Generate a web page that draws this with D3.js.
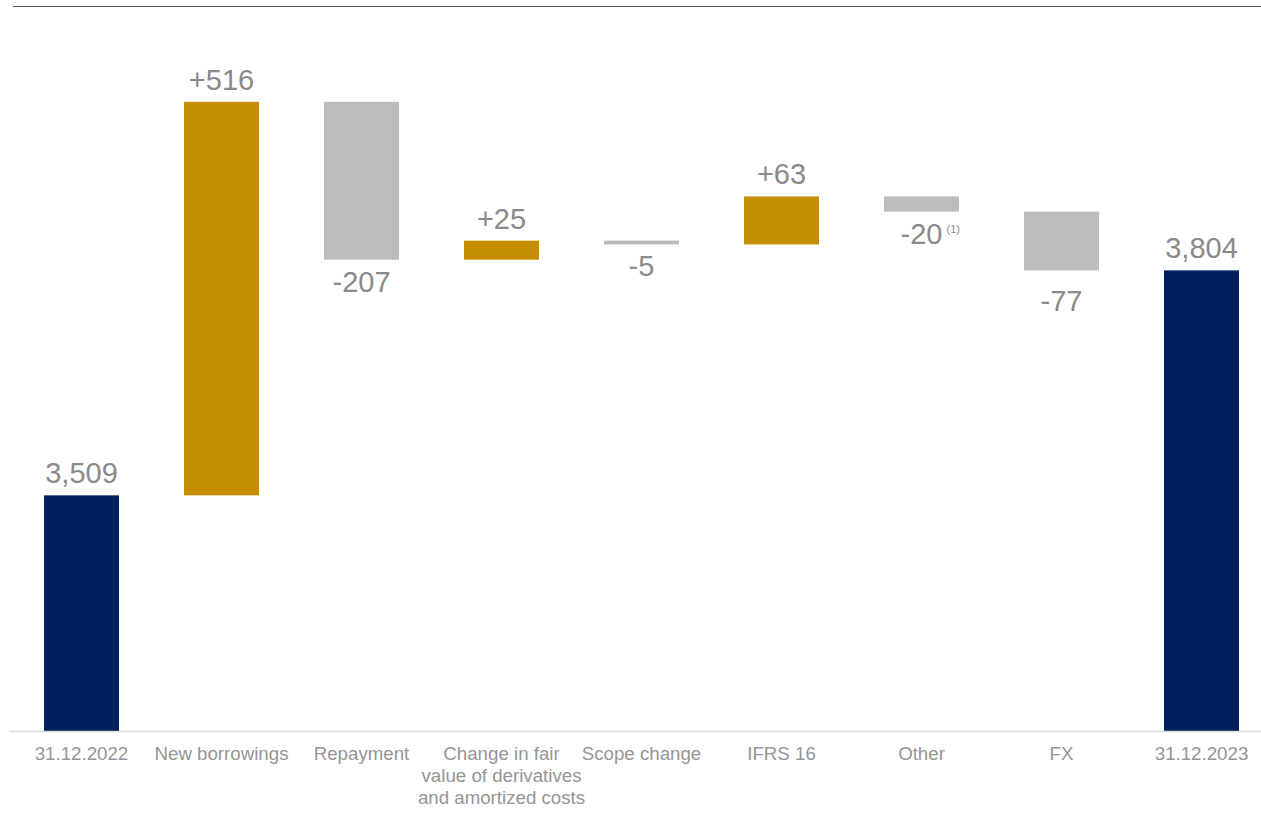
<!DOCTYPE html>
<html>
<head>
<meta charset="utf-8">
<script src="https://cdn.jsdelivr.net/npm/d3@7"></script>
<style>
  html, body { margin: 0; padding: 0; background: #fff; }
  svg { display: block; font-family: "Liberation Sans", Arial, Helvetica, sans-serif; }
</style>
</head>
<body>
<svg id="chart" width="1261" height="824"></svg>
<script>
// Net debt bridge, 31.12.2022 to 31.12.2023
const categories = [
  ["31.12.2022"],
  ["New borrowings"],
  ["Repayment"],
  ["Change in fair", "value of derivatives", "and amortized costs"],
  ["Scope change"],
  ["IFRS 16"],
  ["Other"],
  ["FX"],
  ["31.12.2023"]
];
const values = [3509, 516, -207, 25, -5, 63, -20, -77, 3804];
const kinds = ["total", "delta", "delta", "delta", "delta", "delta", "delta", "delta", "total"];
const valueLabels = ["3,509", "+516", "-207", "+25", "-5", "+63", "-20", "-77", "3,804"];
const footnotes = ["", "", "", "", "", "", "(1)", "", ""];

const colors = { total: "#00205c", up: "#c48e00", down: "#bcbcbc" };

// running totals give each floating bar its start and end
let running = 0;
const bars = values.map((v, i) => {
  let start, end;
  if (kinds[i] === "total") { start = null; end = v; running = v; }
  else { start = running; end = running + v; running = end; }
  return { i, v, kind: kinds[i], start, end, label: valueLabels[i], note: footnotes[i], cat: categories[i] };
});

const svg = d3.select("#chart");
const yMin = 3200;

const x = d3.scaleBand()
  .domain(d3.range(categories.length))
  .range([11.5, 1271.5])
  .paddingInner(0.4643)
  .paddingOuter(0.2321);

const y = d3.scaleLinear().domain([yMin, 4150]).range([731, 6.5]);

const cx = d => x(d.i) + x.bandwidth() / 2;
const barTop = d => d.kind === "total" ? y(d.end) : y(Math.max(d.start, d.end));
const barBottom = d => d.kind === "total" ? y(yMin) : y(Math.min(d.start, d.end));

// top rule
svg.append("line")
  .attr("x1", 13).attr("x2", 1261).attr("y1", 6.5).attr("y2", 6.5)
  .attr("stroke", "#595959").attr("stroke-width", 1.2);

// bars
svg.append("g").selectAll("rect").data(bars).join("rect")
  .attr("x", d => x(d.i))
  .attr("width", x.bandwidth())
  .attr("y", barTop)
  .attr("height", d => barBottom(d) - barTop(d))
  .attr("fill", d => d.kind === "total" ? colors.total : (d.v >= 0 ? colors.up : colors.down));

// baseline
svg.append("line")
  .attr("x1", 9).attr("x2", 1261).attr("y1", y(yMin) + 0.5).attr("y2", y(yMin) + 0.5)
  .attr("stroke", "#dcdcdc").attr("stroke-width", 1.5);

// value labels: above rising bars and totals, below falling bars
// (the FX label sits a little lower than the others)
const labels = svg.append("g").selectAll("g").data(bars).join("g")
  .attr("transform", d => {
    const below = d.kind !== "total" && d.v < 0;
    const extra = d.cat[0] === "FX" ? 9 : 0;
    const ty = below ? barBottom(d) + 32 + extra : barTop(d) - 12;
    return `translate(${cx(d)},${ty})`;
  });

labels.append("text")
  .attr("text-anchor", "middle")
  .attr("font-size", 29)
  .attr("fill", "#8a8a8a")
  .text(d => d.label);

labels.filter(d => d.note).append("text")
  .attr("x", 25)
  .attr("y", -11)
  .attr("font-size", 11)
  .attr("fill", "#8a8a8a")
  .text(d => d.note);

// category labels
const cats = svg.append("g").selectAll("text").data(bars).join("text")
  .attr("transform", d => `translate(${cx(d)},760)`)
  .attr("text-anchor", "middle")
  .attr("font-size", 18.7)
  .attr("fill", "#959595");

cats.selectAll("tspan").data(d => d.cat)
  .join("tspan")
  .attr("x", 0)
  .attr("dy", (t, j) => j === 0 ? 0 : 22)
  .text(t => t);
</script>
</body>
</html>
